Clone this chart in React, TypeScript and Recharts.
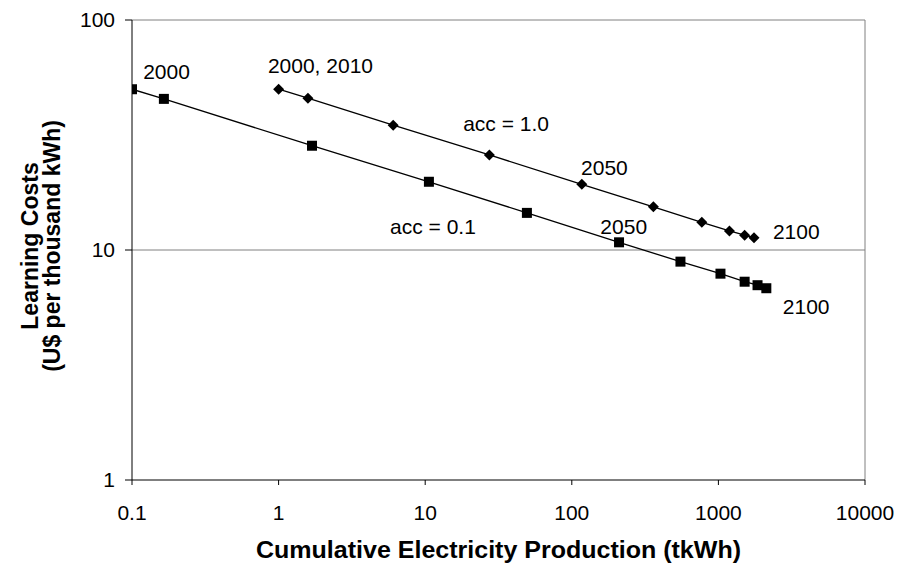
import React from "react";
import { LineChart, Line, XAxis, YAxis, ReferenceLine, ReferenceDot, Label } from "recharts";

// acc = 0.1 series (squares)
const accLowX = [0.1, 0.165, 1.69, 10.6, 49.4, 210, 551, 1033, 1510, 1849, 2123];
const accLowY = [50, 45.4, 28.4, 19.8, 14.5, 10.8, 8.9, 7.89, 7.28, 7.03, 6.82];
// acc = 1.0 series (diamonds)
const accHighX = [1.0, 1.585, 6.05, 27.4, 117, 360, 771, 1189, 1510, 1750];
const accHighY = [50, 45.7, 34.9, 25.9, 19.3, 15.4, 13.2, 12.1, 11.6, 11.3];

const xTicks = [0.1, 1, 10, 100, 1000, 10000];
const yTicks = [1, 10, 100];

const annotations = [
  { x: 0.172, y: 59.5, text: "2000" },
  { x: 1.93, y: 63.1, text: "2000, 2010" },
  { x: 35.6, y: 35.6, text: "acc = 1.0" },
  { x: 167, y: 22.9, text: "2050" },
  { x: 11.3, y: 12.7, text: "acc = 0.1" },
  { x: 226, y: 12.7, text: "2050" },
  { x: 3397, y: 12.0, text: "2100" },
  { x: 3970, y: 5.65, text: "2100" },
];

const lowData = accLowX.map((x, i) => ({ x, y: accLowY[i] }));
const highData = accHighX.map((x, i) => ({ x, y: accHighY[i] }));

const FONT = "'Liberation Sans', Arial, sans-serif";

const SquareDot = (props: any) => {
  const { cx, cy, index } = props;
  if (cx == null || cy == null) return null;
  return <rect key={"s" + index} x={cx - 5} y={cy - 5} width={10} height={10} fill="#000" />;
};

const DiamondDot = (props: any) => {
  const { cx, cy, index } = props;
  if (cx == null || cy == null) return null;
  const r = 5.5;
  return (
    <polygon
      key={"d" + index}
      points={`${cx},${cy - r} ${cx + r},${cy} ${cx},${cy + r} ${cx - r},${cy}`}
      fill="#000"
    />
  );
};

const YTitle = (props: any) => {
  const vb = props.viewBox || {};
  const cy = vb.y + vb.height / 2 - 4;
  return (
    <g fontFamily={FONT} fontWeight="bold" fontSize={23} fill="#000">
      <text x={0} y={0} textAnchor="middle" transform={`translate(38, ${cy}) rotate(-90)`}>
        Learning Costs
      </text>
      <text x={0} y={0} textAnchor="middle" transform={`translate(60, ${cy}) rotate(-90)`}>
        (U$ per thousand kWh)
      </text>
    </g>
  );
};

const XTitle = (props: any) => {
  const vb = props.viewBox || {};
  const cx = vb.x + vb.width / 2;
  return (
    <text
      x={cx}
      y={558}
      textAnchor="middle"
      fontFamily={FONT}
      fontWeight="bold"
      fontSize={23}
      fill="#000"
      textLength={485}
      lengthAdjust="spacingAndGlyphs"
    >
      Cumulative Electricity Production (tkWh)
    </text>
  );
};

export default function App() {
  return (
    <div style={{ position: "absolute", left: 0, top: 0, background: "#fff" }}>
      <LineChart width={898} height={566} margin={{ top: 20, right: 33, bottom: 0, left: 0 }}>
        <XAxis
          type="number"
          dataKey="x"
          scale="log"
          domain={[0.1, 10000]}
          ticks={xTicks}
          allowDataOverflow
          height={86}
          stroke="#000"
          tickSize={5}
          tickMargin={20}
          tick={{ fontFamily: FONT, fontSize: 21, fill: "#000" }}
          tickFormatter={(v: number) => String(v)}
        >
          <Label content={<XTitle />} />
        </XAxis>
        <YAxis
          type="number"
          dataKey="y"
          scale="log"
          domain={[1, 100]}
          ticks={yTicks}
          allowDataOverflow
          width={132}
          stroke="#000"
          tickSize={7}
          tickMargin={10}
          tick={{ fontFamily: FONT, fontSize: 21, fill: "#000" }}
        >
          <Label content={<YTitle />} />
        </YAxis>
        <ReferenceLine y={10} stroke="#808080" strokeWidth={1} />
        <ReferenceLine y={100} stroke="#808080" strokeWidth={1} />
        <ReferenceLine x={10000} stroke="#808080" strokeWidth={1} />
        <Line
          data={lowData}
          dataKey="y"
          stroke="#000"
          strokeWidth={1.3}
          dot={<SquareDot />}
          activeDot={false}
          isAnimationActive={false}
        />
        <Line
          data={highData}
          dataKey="y"
          stroke="#000"
          strokeWidth={1.3}
          dot={<DiamondDot />}
          activeDot={false}
          isAnimationActive={false}
        />
        {annotations.map((a, i) => (
          <ReferenceDot
            key={i}
            x={a.x}
            y={a.y}
            r={0}
            fill="none"
            stroke="none"
            label={{ value: a.text, position: "center", fontFamily: FONT, fontSize: 21, fill: "#000" }}
          />
        ))}
      </LineChart>
    </div>
  );
}
